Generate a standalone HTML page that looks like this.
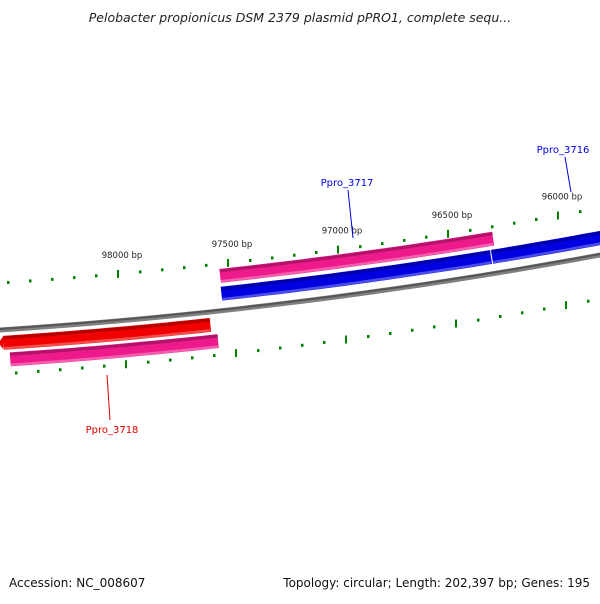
<!DOCTYPE html>
<html><head><meta charset="utf-8"><style>
body{margin:0;background:#fff;width:600px;height:600px;overflow:hidden;font-family:"DejaVu Sans","Liberation Sans",sans-serif}
</style></head><body>
<svg width="600" height="600" xmlns="http://www.w3.org/2000/svg">
<text x="300" y="22" text-anchor="middle" font-size="12.5" font-style="italic" fill="#222">Pelobacter propionicus DSM 2379 plasmid pPRO1, complete sequ...</text>
<g id="map"></g>
<text x="9" y="587" font-size="12" fill="#111">Accession: NC_008607</text>
<text x="590" y="587" text-anchor="end" font-size="12" fill="#111">Topology: circular; Length: 202,397 bp; Genes: 195</text>
</svg>
<script>
const tickStart=98500, tickEnd=95800, tickStep=100;
const majorTicks=[98000,97500,97000,96500,96000];
const geneNames=["Ppro_3718","Ppro_3718b","Ppro_3717","Ppro_3717b","Ppro_3716"];
const geneStart=[98520,98490,97536,97530,96300];
const geneEnd=[97580,97545,96295,96305,95500];
const geneOffset=[13,30,-35,-17,-17];
const geneColor=["#f00000","#ee1a8c","#ee1a8c","#0000e0","#0000e0"];
const NS="http://www.w3.org/2000/svg";
const g=document.getElementById('map');
function xOf(bp){return 118+(98000-bp)*0.22;}
function yOf(x,off){return 330+off-0.065*x-0.0001*x*x;}
function mk(t,a){const e=document.createElementNS(NS,t);for(const k in a)e.setAttribute(k,a[k]);g.appendChild(e);return e;}
function band(x1,x2,off,w,col){let d="";const n=20;for(let i=0;i<=n;i++){const x=x1+(x2-x1)*i/n;d+=(i?"L":"M")+x.toFixed(1)+","+(yOf(x,off)).toFixed(1);}return mk('path',{d:d,stroke:col,'stroke-width':w,fill:'none'});}
// backbone
let bb=band(-5,605,0,5,'#808080');

band(-5,605,-1,2,'#555');
// ticks
for(let bp=tickStart;bp>=tickEnd;bp-=tickStep){
  const maj=majorTicks.includes(bp);
  [[-47,0],[44,8]].forEach(([off,dx])=>{
    const x=xOf(bp)+dx,y=yOf(x,off);
    const t=mk('rect',{x:x-1,y:maj?y-4:y-1.5,width:maj?2:2.5,height:maj?8:3,fill:'#008000'});
    
    
  });
  if(maj){const x=xOf(bp);const l=mk('text',{x:x+4,y:yOf(x,-47)-16,'text-anchor':'middle','font-size':'8.5',fill:'#222'});l.textContent=bp+' bp';
  
  }
}
// genes
for(let i=0;i<geneNames.length;i++){
  const x1=xOf(geneStart[i]),x2=xOf(geneEnd[i]);
  const o=geneOffset[i];
  const b=band(Math.max(x1,-5),Math.min(x2,605),o,14,geneColor[i]);
  
  
  band(Math.max(x1,-5),Math.min(x2,605),o-5,3,'rgba(0,0,0,0.25)');
  band(Math.max(x1,-5),Math.min(x2,605),o+5.5,2.5,'rgba(255,255,255,0.3)');
}
// left arrowhead for red gene
const ax=xOf(geneStart[0]),ay=yOf(ax,13);
const ah=mk('polygon',{points:`${ax},${ay-7} ${ax},${ay+7} ${ax-5},${ay}`,fill:'#f00000'});


// labels
const labs=[["Ppro_3717",347,186,348,190,353,238,'#0000e0'],["Ppro_3716",563,153,565,157,571,192,'#0000e0'],["Ppro_3718",112,433,107,375,110,420,'#e00000']];
labs.forEach(l=>{
  const ln=mk('line',{x1:l[3],y1:l[4],x2:l[5],y2:l[6],stroke:l[7],'stroke-width':1});
  
  
  const t=mk('text',{x:l[1],y:l[2],'text-anchor':'middle','font-size':'10',fill:l[7]});t.textContent=l[0];
  
  
});
</script>
</body></html>
